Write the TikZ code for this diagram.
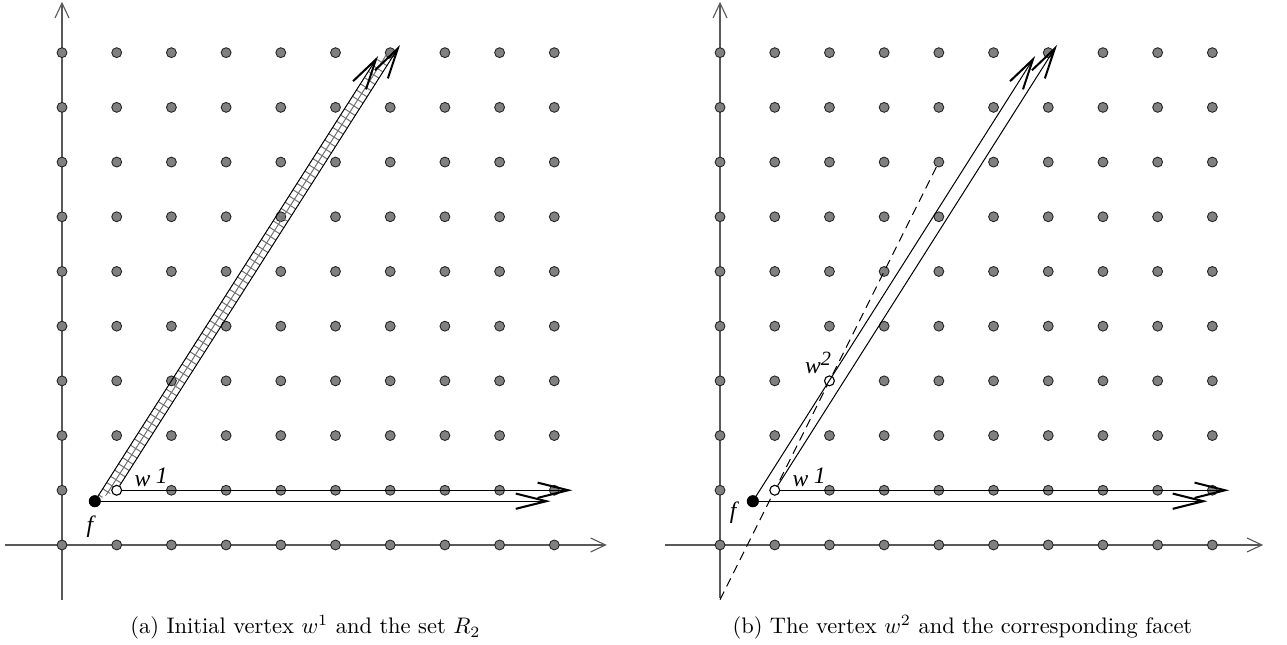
\documentclass[tikz,border=0pt]{standalone}
\usepackage{fontspec}
\newfontfamily\labfont{Liberation Serif}
\usetikzlibrary{arrows.meta}
\tikzset{
  axis/.style={draw=black!65, line width=0.6pt, -{Straight Barb[length=6.6pt,width=6.2pt,line width=0.5pt]}},
  latdot/.style={circle, fill=black!50, draw=black!85, line width=0.4pt, inner sep=0pt, minimum size=4.4pt},
  opendot/.style={circle, fill=white, draw=black, line width=0.5pt, inner sep=0pt, minimum size=4.4pt},
  fdot/.style={circle, fill=black, inner sep=0pt, minimum size=5.4pt},
  ray/.style={draw=black, line width=0.45pt, -{Straight Barb[length=13.6pt,width=6.8pt,line width=0.9pt]}},
  hatchline/.style={draw=black!55, line width=0.45pt},
  facetline/.style={draw=black, line width=0.45pt, dash pattern=on 4pt off 2.6pt},
  lbl/.style={font=\labfont\itshape\fontsize{10.5}{12}\selectfont, inner sep=0pt},
  captext/.style={anchor=base, inner sep=0pt}
}
\begin{document}
\begin{tikzpicture}[x=24.34pt,y=24.34pt]
\useasboundingbox (-1.1335,-1.828) rectangle (22.395,9.963);

% ---------------- panel (a) ----------------
\begin{scope}
  \coordinate (ax0) at (-1.04,0); \coordinate (ax1) at (9.96,0);
  \coordinate (ay0) at (0,-1.0);  \coordinate (ay1) at (0,9.93);
  \draw[axis] (ax0) -- (ax1);
  \draw[axis] (ay0) -- (ay1);
  \foreach \i in {0,...,9}{\foreach \j in {0,...,9}{
    \pgfmathtruncatemacro{\k}{\i*10+\j}
    \ifnum\k=11\relax\else\node[latdot] (pa-\i-\j) at (\i,\j) {};\fi
  }}
  % hatched strip
  \begin{scope}[shift={(0.6,0.8)}, rotate=57.53]
    \clip (0,0) -- (9.55,0) -- (9.93,-0.2301) -- (0.3835,-0.2301) -- cycle;
    \draw[hatchline] (0,-0.115) -- (10.2,-0.115);
    \foreach \t in {0,...,76}{
      \draw[hatchline] (\t*0.135,0.05) -- (\t*0.135,-0.3);
    }
  \end{scope}
  \node[fdot] (fa) at (0.6,0.8) {};
  \node[opendot] (w1a) at (1,1) {};
  \coordinate (fa-up) at (5.78,8.94);
  \coordinate (w1a-up) at (6.18,9.14);
  \coordinate (fa-rt) at (8.93,0.8);
  \coordinate (w1a-rt) at (9.33,1);
  \draw[ray] (fa.center) -- (fa-up);
  \draw[ray] (w1a) -- (w1a-up);
  \draw[ray] (fa.center) -- (fa-rt);
  \draw[ray] (w1a) -- (w1a-rt);
  \node[lbl] (fla) at (0.51,0.33) {f};
  \node[lbl] (w1la) at (1.63,1.24) {w\hspace{2.5pt}\raisebox{1.5pt}{1}};
  \node[captext] (capa) at (4.45,-1.627) {(a) Initial vertex $w^1$ and the set $R_2$};
\end{scope}

% ---------------- panel (b) ----------------
\begin{scope}[shift={(12.03,0)}]
  \coordinate (bx0) at (-1.0,0); \coordinate (bx1) at (9.93,0);
  \coordinate (by0) at (0,-0.97); \coordinate (by1) at (0,9.93);
  \draw[axis] (bx0) -- (bx1);
  \draw[axis] (by0) -- (by1);
  \foreach \i in {0,...,9}{\foreach \j in {0,...,9}{
    \pgfmathtruncatemacro{\k}{\i*10+\j}
    \ifnum\k=11\relax\else\ifnum\k=23\relax\else\node[latdot] (pb-\i-\j) at (\i,\j) {};\fi\fi
  }}
  \coordinate (db0) at (0,-1);
  \coordinate (db1) at (4,7);
  \draw[facetline] (db0) -- (db1);
  \node[fdot] (fb) at (0.6,0.8) {};
  \node[opendot] (w1b) at (1,1) {};
  \node[opendot] (w2b) at (2,3) {};
  \coordinate (fb-up) at (5.76,8.94);
  \coordinate (w1b-up) at (6.16,9.14);
  \coordinate (fb-rt) at (8.91,0.8);
  \coordinate (w1b-rt) at (9.31,1);
  \draw[ray] (fb.center) -- (fb-up);
  \draw[ray] (w1b) -- (w1b-up);
  \draw[ray] (fb.center) -- (fb-rt);
  \draw[ray] (w1b) -- (w1b-rt);
  \node[lbl] (flb) at (0.24,0.585) {f};
  \node[lbl] (w1lb) at (1.63,1.24) {w\hspace{2.5pt}\raisebox{1.5pt}{1}};
  \node[lbl] (w2lb) at (1.79,3.33) {w\raisebox{3.5pt}{\fontsize{9}{10}\selectfont 2}};
  \node[captext] (capb) at (4.43,-1.627) {(b) The vertex $w^2$ and the corresponding facet};
\end{scope}
\end{tikzpicture}
\end{document}
